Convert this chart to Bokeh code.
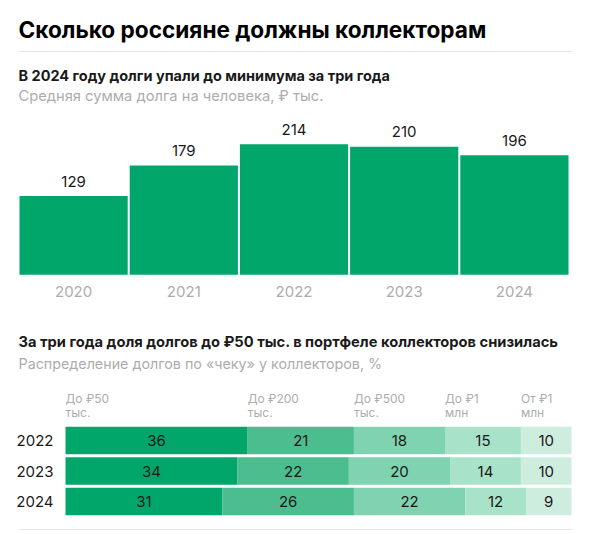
from bokeh.plotting import figure
from bokeh.models import ColumnDataSource, Range1d, Label, BoxAnnotation
from bokeh.embed import file_html
from bokeh.resources import INLINE
from bokeh.core.properties import value

# ---------------- data ----------------
years_avg = ["2020", "2021", "2022", "2023", "2024"]
avg_debt = [129, 179, 214, 210, 196]

share_years = ["2022", "2023", "2024"]
bucket_labels = ["До ₽50\nтыс.", "До ₽200\nтыс.", "До ₽500\nтыс.", "До ₽1\nмлн", "От ₽1\nмлн"]
share_lt50 = [36, 34, 31]
share_lt200 = [21, 22, 26]
share_lt500 = [18, 20, 22]
share_lt1m = [15, 14, 12]
share_ge1m = [10, 10, 9]

title_main = "Сколько россияне должны коллекторам"
title_a = "В 2024 году долги упали до минимума за три года"
sub_a = "Средняя сумма долга на человека, ₽ тыс."
title_b = "За три года доля долгов до ₽50 тыс. в портфеле коллекторов снизилась"
sub_b = "Распределение долгов по «чеку» у коллекторов, %"

# ---------------- style ----------------
FONT = "Inter"
GREEN = "#00a66a"
STACK_COLORS = ["#00a66a", "#4cbd8f", "#80d3b0", "#a8e2c8", "#cdeedf"]
GRAY = "#adadad"
DARK = "#1a1a1a"
RULE = "#e6e6e6"
BL = 0.33   # correction: rendered alphabetic baseline sits ~0.33em lower than wanted

W, H = 580, 532
OX, OY = 0, 0          # page offset of the canvas (as observed)


def sx(page_x):
    return page_x - OX


def sy(page_y):
    return (OY + H) - page_y


# stacked chart mapping: 0% at page x 65, 100% at page x 571; row pitch 30.5 px, row 0 at page y 501
X0, X1 = 65, 571
ppx = (X1 - X0) / 100.0
ROW0, PITCH = 501, 30.5
# bar chart mapping: first bar slot starts at page x 18, 110.2 px per slot; baseline page y 274.3, 0.61 px/unit
BX0, SLOT = 18, 110.2
BASE_Y, PXU = 274.3, 0.61

p = figure(width=W, height=H,
           x_range=Range1d(-(X0 - OX) / ppx, 100 + (OX + W - X1) / ppx),
           y_range=Range1d(-(OY + H - ROW0) / PITCH, (ROW0 - OY) / PITCH),
           output_backend="svg", toolbar_location=None,
           x_axis_location=None, y_axis_location=None,
           min_border=0)
p.outline_line_color = None
p.xgrid.visible = False
p.ygrid.visible = False
p.extra_x_ranges = {"bars": Range1d((OX - BX0) / SLOT - 0.5, (OX + W - BX0) / SLOT - 0.5)}
p.extra_y_ranges = {"bars": Range1d(-(OY + H - BASE_Y) / PXU, (BASE_Y - OY) / PXU)}

# ---- bar chart ----
srcA = ColumnDataSource(dict(i=list(range(len(years_avg))), year=years_avg, val=avg_debt,
                             label=[str(v) for v in avg_debt], zero=[0] * len(avg_debt)))
kwA = dict(x_range_name="bars", y_range_name="bars", source=srcA)
p.vbar(x="i", top="val", width=0.982, fill_color=GREEN, line_color=None, **kwA)
p.text(x="i", y="val", text="label", text_align="center",
       text_baseline="alphabetic", y_offset=-10 - BL * 15, text_font=value(FONT),
       text_font_size="15px", text_color=DARK, **kwA)
p.text(x="i", y="zero", text="year", text_align="center",
       text_baseline="alphabetic", y_offset=22 - BL * 15, text_font=value(FONT),
       text_font_size="15px", text_color=GRAY, **kwA)

# ---- stacked chart ----
keys = ["lt50", "lt200", "lt500", "lt1m", "ge1m"]
series = [share_lt50, share_lt200, share_lt500, share_lt1m, share_ge1m]
n = len(share_years)
ypos = [n - 1 - i for i in range(n)]
srcB = ColumnDataSource(dict(y=ypos, yr=share_years, zero=[0] * n,
                             **{k: s for k, s in zip(keys, series)}))
p.hbar_stack(keys, y="y", height=0.9, fill_color=STACK_COLORS, line_color=None, source=srcB)

lx, ly, lt = [], [], []
for r in range(n):
    left = 0
    for s in series:
        v = s[r]
        lx.append(left + v / 2)
        ly.append(ypos[r])
        lt.append(str(v))
        left += v
p.text(x=lx, y=ly, text=lt, text_align="center", text_baseline="middle",
       text_font=value(FONT), text_font_size="15px", text_color=DARK)

# row labels (years)
p.text(x="zero", y="y", text="yr", source=srcB, x_offset=-12, text_align="right",
       text_baseline="middle", text_font=value(FONT), text_font_size="15px", text_color=DARK)

# bucket header labels at the starts of the first year's segments
starts = []
acc = 0
for s in series:
    starts.append(acc)
    acc += s[0]
line1 = [b.split("\n")[0] for b in bucket_labels]
line2 = [b.split("\n")[1] for b in bucket_labels]
yfirst = [ypos[0]] * len(bucket_labels)
for txt, off in ((line1, -38), (line2, -24)):
    p.text(x=starts, y=yfirst, text=txt, y_offset=off - BL * 12, text_align="left",
           text_baseline="alphabetic", text_font=value(FONT), text_font_size="12px", text_color=GRAY)


# ---- titles and rules ----
def lab(x, y, text, size, color, style="normal"):
    p.add_layout(Label(x=sx(x), y=sy(y) + BL * size, x_units="screen", y_units="screen", text=text,
                       text_font=FONT, text_font_size=f"{size}px", text_color=color,
                       text_font_style=style, text_baseline="alphabetic", text_align="left"))


def rule(x0, x1, y):
    p.add_layout(BoxAnnotation(left=sx(x0), right=sx(x1), bottom=sy(y + 0.5), top=sy(y - 0.5),
                               left_units="screen", right_units="screen",
                               bottom_units="screen", top_units="screen",
                               fill_color=RULE, fill_alpha=1, line_color=None))


lab(18, 36, title_main, 22.6, "#000000", "bold")
rule(18, 572, 51)
lab(18, 80, title_a, 14.5, DARK, "bold")
lab(18, 100.7, sub_a, 14.7, GRAY)
lab(18, 346.7, title_b, 14.7, DARK, "bold")
lab(18, 367.7, sub_b, 14.3, GRAY)
rule(18, 572, 529)

open("out.html", "w").write(file_html(p, INLINE))
